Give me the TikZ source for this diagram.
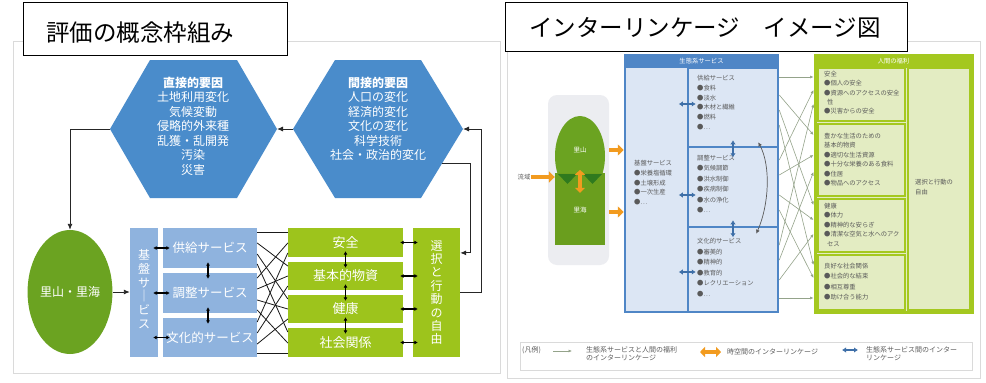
\documentclass[tikz,border=0pt]{standalone}
\usepackage{fontspec}
\setmainfont{Noto Sans CJK JP}
\usetikzlibrary{arrows.meta,calc,shapes.geometric}
\definecolor{hexblue}{HTML}{4A8CCB}
\definecolor{lblue}{HTML}{8FB3DE}
\definecolor{sgreen}{HTML}{6BA321}
\definecolor{ygreen}{HTML}{9DC41C}
\definecolor{panelgray}{HTML}{DADADA}
\definecolor{bborder}{HTML}{4F86C6}
\definecolor{bfill}{HTML}{DCE6F4}
\definecolor{gborder}{HTML}{A4C81F}
\definecolor{gfill}{HTML}{E3ECC2}
\definecolor{dblue}{HTML}{3E6FA8}
\definecolor{orng}{HTML}{F29B1F}
\definecolor{lgray}{HTML}{ECEDF1}
\definecolor{seagreen}{HTML}{6A9E1E}
\definecolor{dgreen}{HTML}{2F7A1E}
\definecolor{xgray}{HTML}{94A38A}
\definecolor{txtgray}{HTML}{5A5A5A}
\begin{document}
\begin{tikzpicture}[x=1pt,y=-1pt,
  titlebox/.style={draw=black, line width=0.9pt, fill=white, inner sep=0pt, outer sep=0pt},
  titletext/.style={font=\fontsize{23.5}{26}\selectfont, inner sep=0pt},
  hextext/.style={text=white, align=center, font=\fontsize{12}{14.5}\selectfont, inner sep=0pt},
  conn/.style={draw=black!85, line width=0.9pt},
  tipL/.style={-{Latex[length=6pt,width=5pt]}},
  dbl/.style={draw=black, line width=1.2pt, {Latex[length=3.5pt,width=4pt]}-{Latex[length=3.5pt,width=4pt]}},
  sbox/.style={fill=lblue, text=white, minimum width=94pt, minimum height=40pt, inner sep=0pt, font=\fontsize{12.5}{14}\selectfont},
  gbox/.style={fill=ygreen, text=white, minimum width=115pt, minimum height=28pt, inner sep=0pt, font=\fontsize{13}{14}\selectfont},
  vtext/.style={text=white, align=center, inner sep=0pt},
  xc/.style={draw=black!90, line width=0.8pt},
  small/.style={font=\fontsize{6.3}{9.8}\selectfont, text=txtgray, align=left, anchor=north west, inner sep=0pt},
  bdbl/.style={draw=dblue, line width=1.8pt, {Latex[length=4pt,width=5.5pt]}-{Latex[length=4pt,width=5.5pt]}},
  orarrow/.style={draw=orng, line width=4.5pt, -{Triangle[length=6pt,width=11pt]}},
  orbi/.style={draw=orng, line width=4pt, {Triangle[length=5pt,width=10pt]}-{Triangle[length=5pt,width=10pt]}},
  xline/.style={draw=xgray, line width=0.6pt, -{Latex[length=3.5pt,width=3pt]}},
  bbox/.style={draw=bborder, line width=2.5pt, fill=bfill, inner sep=0pt},
  wbox/.style={draw=gborder, line width=2.5pt, fill=gfill, inner sep=0pt},
  legtext/.style={font=\fontsize{7}{8.5}\selectfont, text=txtgray, align=left, inner sep=0pt}
]
\useasboundingbox (0,0) rectangle (986,383);
\fill[white] (0,0) rectangle (986,383);

% panels
\draw[panelgray, line width=1pt] (13,41) rectangle (500,373);
\draw[panelgray, line width=1pt] (507,41) rectangle (980,378);

% titles
\node[titlebox, minimum width=264pt, minimum height=53pt] (t1) at (155,28.5) {};
\node[titletext] (t1text) at (140,33) {評価の概念枠組み};
\node[titlebox, minimum width=402pt, minimum height=49pt] (t2) at (706,26.5) {};
\node[titletext] (t2text) at (705,28) {インターリンケージ　イメージ図};

% ===== left panel =====
\coordinate (dW) at (110,129); \coordinate (dE) at (277,129);
\fill[hexblue] (dW) -- (150,60) -- (237,60) -- (dE) -- (237,198) -- (150,198) -- cycle;
\node[hextext] (dtext) at (193,126) {\textbf{直接的要因}\\土地利用変化\\気候変動\\侵略的外来種\\乱獲・乱開発\\汚染\\災害};

\coordinate (iW) at (293,129); \coordinate (iE) at (463,129); \coordinate (iSE) at (442,163);
\fill[hexblue] (iW) -- (335,60) -- (421,60) -- (iE) -- (421,198) -- (335,198) -- cycle;
\node[hextext] (itext) at (378,119) {\textbf{間接的要因}\\人口の変化\\経済的変化\\文化の変化\\科学技術\\社会・政治的変化};

\node[ellipse, fill=sgreen, minimum width=80pt, minimum height=124pt, inner sep=0pt, text=white, font=\fontsize{12}{14}\selectfont] (sato) at (70,292) {里山・里海};

\node[fill=lblue, minimum width=28pt, minimum height=129pt, inner sep=0pt] (kiban) at (144,292.5) {};
\node[vtext, font=\fontsize{12}{13.7}\selectfont] (kibantext) at (144,289) {基\\盤\\サ\\｜\\ビ\\ス};

\node[sbox] (sv1) at (210,248) {供給サービス};
\node[sbox] (sv2) at (210,293) {調整サービス};
\node[sbox, minimum height=39pt] (sv3) at (210,337.5) {文化的サービス};

\node[gbox, minimum height=29pt] (g1) at (345.5,242.5) {安全};
\node[gbox] (g2) at (345.5,276) {基本的物資};
\node[gbox] (g3) at (345.5,309) {健康};
\node[gbox, minimum height=29pt] (g4) at (345.5,342.5) {社会関係};

\node[fill=ygreen, minimum width=47pt, minimum height=129pt, inner sep=0pt, text=white, align=center, font=\fontsize{12}{13.4}\selectfont] (free) at (436.5,292.5) {選\\択\\と\\行\\動\\の\\自\\由};

% connectors
\draw[conn, tipL] (iW) -- (dE);
\draw[conn, tipL] (dW) -| (sato.north);
\draw[conn, tipL] (sato.east) -- (kiban.west |- sato.east);
\draw[conn, tipL] (free.east) -- ++(21,0) |- (iE);
\draw[conn, tipL] (iSE) -- ++(28,0) |- ($(free.north east)!0.194!(free.south east)$);

\foreach \s in {sv1,sv2,sv3}
  \draw[dbl] ($(kiban.east |- \s.west)+(-5,0)$) -- ($(\s.west)+(7,0)$);
\draw[dbl] ($(sv1.south)+(-2,-6)$) -- ($(sv2.north)+(-2,6)$);
\draw[dbl] ($(sv2.south)+(-2,-6)$) -- ($(sv3.north)+(-2,6)$);
\draw[dbl] ($(g1.south)+(0,-6)$) -- ($(g2.north)+(0,6)$);
\draw[dbl] ($(g2.south)+(0,-6)$) -- ($(g3.north)+(0,6)$);
\draw[dbl] ($(g3.south)+(0,-6)$) -- ($(g4.north)+(0,6)$);
\foreach \g in {g1,g2,g3,g4}
  \draw[dbl] ($(\g.east)+(-3,0)$) -- ($(free.west |- \g.east)+(5,0)$);

\foreach \a/\ya/\b/\yb in {sv1/232/g1/232, sv1/243/g2/266, sv1/254/g3/299, sv1/264/g4/332,
  sv2/278/g1/243, sv2/289/g2/276, sv2/300/g3/309, sv2/310/g4/343,
  sv3/322/g1/253, sv3/333/g2/286, sv3/344/g3/319, sv3/353/g4/353}
  \draw[xc] (\a.east |- 0,\ya) -- (\b.west |- 0,\yb);

% ===== right panel =====
\node[fill=lgray, rounded corners=9pt, minimum width=61pt, minimum height=170pt, inner sep=0pt] (sback) at (578.5,180) {};
\node[ellipse, fill=sgreen, minimum width=50pt, minimum height=80pt, inner sep=0pt] (yama) at (580,156) {};
\node[fill=seagreen, minimum width=50pt, minimum height=72pt, inner sep=0pt] (umi) at (580,209) {};
\fill[dgreen] (558,174) -- (577,174) -- (567.5,184) -- cycle;
\fill[dgreen] (583,174) -- (602,174) -- (592.5,184) -- cycle;
\node[text=white, font=\fontsize{6.5}{8}\selectfont, inner sep=0pt] (yamatext) at (580,150) {里山};
\node[text=white, font=\fontsize{6.5}{8}\selectfont, inner sep=0pt] (umitext) at (580,210) {里海};
\draw[orbi] ($(umi.north)+(0,-3)$) -- ($(umi.north)+(0,20)$);
\node[font=\fontsize{6.3}{8}\selectfont, text=txtgray, inner sep=0pt] (ryu) at (524,177) {流域};

\node[bbox, minimum width=153pt, minimum height=257pt] (eco) at (701.5,183.5) {};
\fill[bborder] (625,55) rectangle (778,68);
\node[text=white, font=\fontsize{6.3}{8}\selectfont, inner sep=0pt] (ecohead) at (701.5,61.5) {生態系サービス};
\node[bbox, minimum width=90pt, minimum height=79pt] (prov) at (733,107.5) {};
\node[bbox, minimum width=90pt, minimum height=80pt] (reg) at (733,187) {};
\node[bbox, minimum width=90pt, minimum height=85pt] (cult) at (733,269.5) {};

\draw[orarrow] (ryu.east) -- (umi.west |- ryu.east);
\draw[orarrow] (sback.east |- 0,150) -- (eco.west |- 0,150);
\draw[orarrow] (sback.east |- 0,212) -- (eco.west |- 0,212);

\node[small] (basetext) at (634,160) {基盤サービス\\●栄養塩循環\\●土壌形成\\●一次生産\\●…};
\node[small] (provtext) at (697,75) {供給サービス\\●食料\\●淡水\\●木材と繊維\\●燃料\\●…};
\node[small, font=\fontsize{6.3}{10.4}\selectfont] (regtext) at (697,155) {調整サービス\\●気候調節\\●洪水制御\\●疾病制御\\●水の浄化\\●…};
\node[small, font=\fontsize{6.3}{10.6}\selectfont] (culttext) at (697,238) {文化的サービス\\●審美的\\●精神的\\●教育的\\●レクリエーション\\●…};

\draw[bdbl] ($(prov.west)+(-8,-3.5)$) -- ($(prov.west)+(9,-3.5)$);
\draw[bdbl] ($(reg.west)+(-8,8)$) -- ($(reg.west)+(9,8)$);
\draw[bdbl] ($(cult.west)+(-8,2.5)$) -- ($(cult.west)+(9,2.5)$);
\draw[bdbl] ($(prov.south)+(0,-8)$) -- ($(prov.south)+(0,9)$);
\draw[bdbl] ($(reg.south)+(0,-8)$) -- ($(reg.south)+(0,9)$);
\draw[draw=txtgray, line width=0.7pt, {Latex[length=4pt,width=4pt]}-{Latex[length=4pt,width=4pt]}]
  ($(prov.south east)+(-21,-6)$) .. controls (771,166) and (769,205) .. ($(cult.north east)+(-23,8)$);

\node[draw=gborder, line width=3pt, fill=gfill, minimum width=157pt, minimum height=257pt, inner sep=0pt] (hw) at (893.5,183.5) {};
\fill[gborder] (815,55) rectangle (972,68);
\node[text=white, font=\fontsize{6.3}{8}\selectfont, inner sep=0pt] (hwhead) at (893.5,61.5) {人間の福利};
\node[wbox, minimum width=87pt, minimum height=53pt] (w1) at (861.5,94.5) {};
\node[wbox, minimum width=87pt, minimum height=72pt] (w2) at (861.5,160) {};
\node[wbox, minimum width=87pt, minimum height=53pt] (w3) at (861.5,225.5) {};
\node[wbox, minimum width=87pt, minimum height=55pt] (w4) at (861.5,282.5) {};
\node[wbox, minimum width=62pt, minimum height=242pt] (wf) at (939,189) {};

\node[small, font=\fontsize{6.3}{9.3}\selectfont] (w1text) at (824,71) {安全\\●個人の安全\\●資源へのアクセスの安全\\\ \ 性\\●災害からの安全};
\node[small, font=\fontsize{6.3}{9.4}\selectfont] (w2text) at (824,133) {豊かな生活のための\\基本的物資\\●適切な生活資源\\●十分な栄養のある食料\\●住居\\●物品へのアクセス};
\node[small, font=\fontsize{6.3}{9.5}\selectfont] (w3text) at (824,203) {健康\\●体力\\●精神的な安らぎ\\●清潔な空気と水へのアク\\\ \ セス};
\node[small, font=\fontsize{6.3}{10.3}\selectfont] (w4text) at (824,263) {良好な社会関係\\●社会的な結束\\●相互尊重\\●助け合う能力};
\node[small] (wftext) at (915,179) {選択と行動の\\自由};

\foreach \a/\ya/\b/\yb in {prov/77/w1/77, prov/95/w2/135, prov/110/w3/205, prov/125/w4/265,
  reg/160/w1/90, reg/175/w2/155, reg/195/w3/220, reg/210/w4/278,
  cult/245/w1/104, cult/260/w2/172, cult/280/w3/234, cult/298/w4/298}
  \draw[xline] (eco.east |- 0,\ya) -- (hw.west |- 0,\yb);

% legend
\node[draw=panelgray, line width=0.8pt, minimum width=452pt, minimum height=28pt, inner sep=0pt] (leg) at (746,356) {};
\node[legtext, anchor=west] (leg0) at (522,350) {(凡例)};
\coordinate (l1a) at (553,351); \coordinate (l1b) at (572,351);
\draw[xline] (l1a) -- (l1b);
\node[legtext, anchor=north west] (leg1) at (586,346) {生態系サービスと人間の福利\\のインターリンケージ};
\coordinate (l2a) at (700,352); \coordinate (l2b) at (721,352);
\draw[orbi] (l2a) -- (l2b);
\node[legtext, anchor=west] (leg2) at (727,352) {時空間のインターリンケージ};
\coordinate (l3a) at (842,350); \coordinate (l3b) at (858,350);
\draw[bdbl] (l3a) -- (l3b);
\node[legtext, anchor=north west] (leg3) at (866,346) {生態系サービス間のインター\\リンケージ};
\end{tikzpicture}
\end{document}
